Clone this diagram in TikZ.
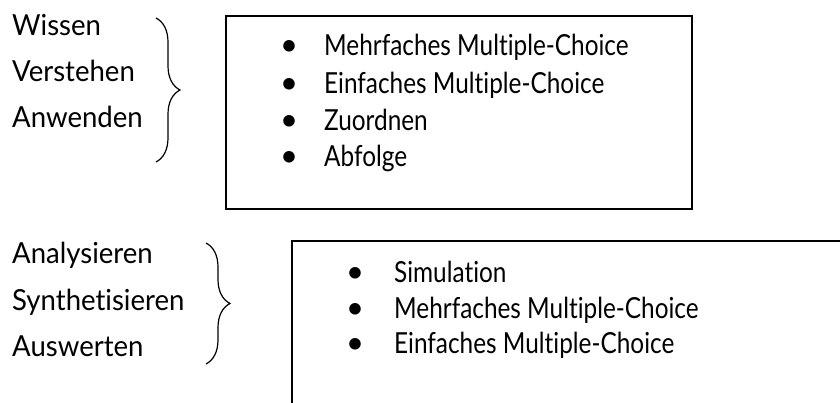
\documentclass[tikz,border=0pt]{standalone}
\usepackage{fontspec}
\setmainfont{Lato}
\newfontfamily\lblfont[FakeStretch = 0.95, Ligatures = NoCommon]{Lato}
\newfontfamily\itmfont[FakeStretch = 0.84, Ligatures = NoCommon]{Lato}
\usetikzlibrary{decorations.pathreplacing}
\tikzset{
	lvl/.style = {anchor = base west, inner sep = 0pt, font = \lblfont\fontsize{29}{29}\selectfont},
	itm/.style = {anchor = base west, inner sep = 0pt, font = \itmfont\fontsize{29}{29}\selectfont},
	dot/.style = {anchor = base, inner sep = 0pt, font = \fontsize{31}{31}\selectfont},
	curly/.style = {decorate, decoration = {brace, amplitude = 24pt}, line width = 1.2pt},
	frame/.style = {draw, line width = 1.8pt}
}
\begin{document}
\begin{tikzpicture}[x = 1pt, y = -1pt]
	\useasboundingbox (0,0) rectangle (840,403);
	\clip (0,0) rectangle (840,403);
	% upper group
	\node [lvl] (wissen) at (12,36) {Wissen};
	\node [lvl] (verstehen) at (12,82) {Verstehen};
	\node [lvl] (anwenden) at (12,128) {Anwenden};
	\coordinate (bA1) at (156,18);
	\coordinate (bA2) at (156,162);
	\draw [curly] (bA1) -- (bA2);
	\draw [frame] (226,16) rectangle (692,209);
	\foreach \y/\t [count = \i] in {56/Mehrfaches Multiple-Choice, 94/Einfaches Multiple-Choice, 131/Zuordnen, 167/Abfolge} {
		\node [dot] (dA\i) at (289,\y) {•};
		\node [itm] (iA\i) at (324,\y) {\t};
	}
	% lower group
	\node [lvl] (analysieren) at (12,264) {Analysieren};
	\node [lvl] (synthetisieren) at (12,310) {Synthetisieren};
	\node [lvl] (auswerten) at (12,356) {Auswerten};
	\coordinate (bB1) at (206,243);
	\coordinate (bB2) at (206,364);
	\draw [curly] (bB1) -- (bB2);
	\draw [frame] (292,241) rectangle (860,430);
	\foreach \y/\t [count = \i] in {282/Simulation, 318/Mehrfaches Multiple-Choice, 353/Einfaches Multiple-Choice} {
		\node [dot] (dB\i) at (355,\y) {•};
		\node [itm] (iB\i) at (394,\y) {\t};
	}
\end{tikzpicture}
\end{document}
